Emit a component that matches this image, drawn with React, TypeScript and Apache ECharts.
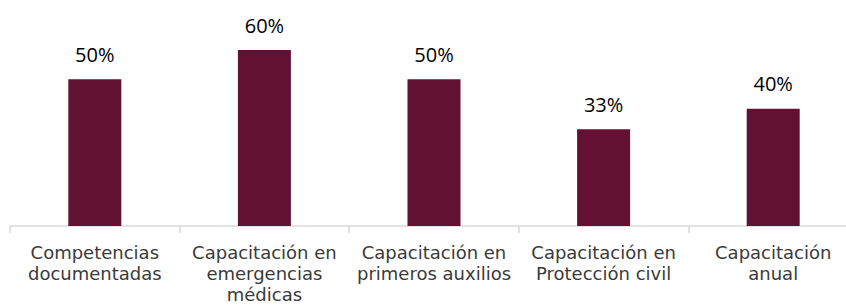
import React, { useEffect, useRef } from "react";
import * as echarts from "echarts";

const categories = [
  "Competencias\ndocumentadas",
  "Capacitación en\nemergencias\nmédicas",
  "Capacitación en\nprimeros auxilios",
  "Capacitación en\nProtección civil",
  "Capacitación\nanual",
];
const values = [50, 60, 50, 33, 40];

export default function App() {
  const ref = useRef<HTMLDivElement>(null);
  useEffect(() => {
    if (!ref.current) return;
    const chart = echarts.init(ref.current, undefined, { renderer: "svg" });
    chart.setOption({
      animation: false,
      grid: { left: 10, right: 0, top: 50, bottom: 75, containLabel: false },
      xAxis: {
        type: "category",
        data: categories,
        axisLine: { show: true, lineStyle: { color: "#d9d9d9", width: 1.5 } },
        axisTick: { show: true, length: 7, lineStyle: { color: "#d9d9d9", width: 1.5 } },
        axisLabel: {
          interval: 0,
          margin: 16,
          color: "#3a3a3a",
          fontFamily: "DejaVu Sans",
          fontSize: 18,
          lineHeight: 21,
        },
      },
      yAxis: { type: "value", min: 0, max: 60, show: false, splitLine: { show: false } },
      series: [
        {
          type: "bar",
          data: values,
          barWidth: 53,
          itemStyle: { color: "#621132" },
          label: {
            show: true,
            position: "top",
            distance: 15,
            formatter: "{c}%",
            color: "#000",
            fontFamily: "Open Sans",
            fontSize: 20,
          },
        },
      ],
    });
    return () => chart.dispose();
  }, []);
  return (
    <div style={{ position: "absolute", left: 0, top: 0, width: 846, height: 305, overflow: "hidden" }}>
      <div ref={ref} style={{ width: 858, height: 305 }} />
    </div>
  );
}
